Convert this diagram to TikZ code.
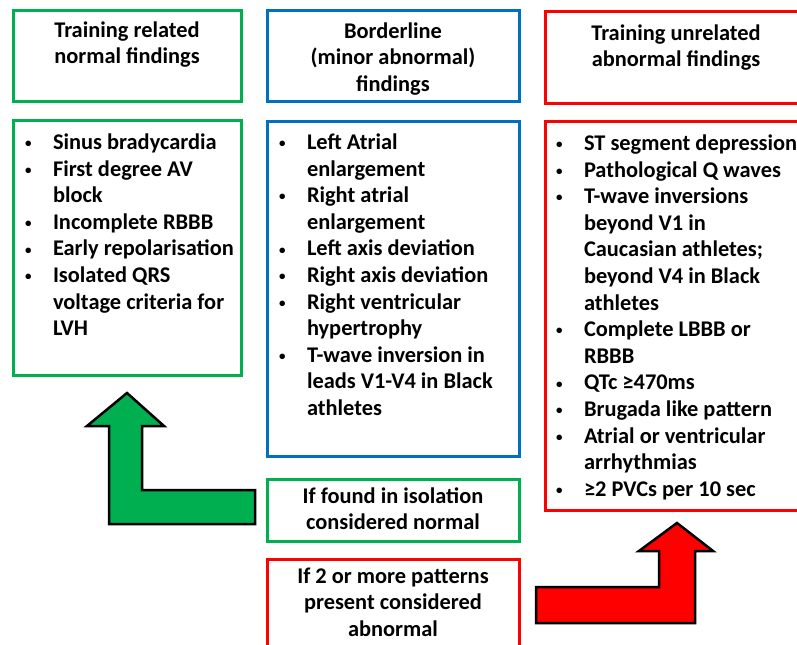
\documentclass[tikz,border=0pt]{standalone}
\usepackage{fontspec}
\setmainfont{Carlito}
\definecolor{okgreen}{HTML}{00B050}
\definecolor{okblue}{HTML}{0070C0}
\definecolor{okred}{HTML}{FF0000}
\newcommand\itembul{\makebox[28bp][l]{\raisebox{1.8bp}{\fontsize{13bp}{13bp}\selectfont•}}}
\newcommand\itemcont{\hspace*{28bp}}
\begin{document}
\begin{tikzpicture}[x=1bp,y=-1bp,
  box/.style={draw=#1, line width=3bp, inner sep=0pt, outer sep=0pt, anchor=north west, fill=white},
  txt/.style={inner sep=0pt, outer sep=0pt, font=\fontsize{22.4bp}{26.6bp}\selectfont\bfseries, text=black},
  listtxt/.style={txt, align=left, anchor=north west},
  headtxt/.style={txt, align=center, anchor=north},
  bigarrow/.style={draw=black, line width=2.5bp, line join=miter, fill=#1}
]
\path[use as bounding box] (0,0) rectangle (797,645);
\clip (0,0) rectangle (797,645);

% header boxes
\node[box=okgreen, minimum width=228bp, minimum height=91bp] (gh) at (13,11) {};
\node[box=okblue,  minimum width=252bp, minimum height=91bp] (bh) at (267,11) {};
\node[box=okred,   minimum width=265bp, minimum height=92bp] (rh) at (545,12) {};

% body boxes
\node[box=okgreen, minimum width=228bp, minimum height=254bp] (gb) at (13,121) {};
\node[box=okblue,  minimum width=252bp, minimum height=334bp] (bb) at (267,122) {};
\node[box=okred,   minimum width=265bp, minimum height=388bp] (rb) at (545,122) {};

% small boxes
\node[box=okgreen, minimum width=252bp, minimum height=62bp] (gs) at (267,479) {};
\node[box=okred,   minimum width=252bp, minimum height=121bp] (rs) at (267,559) {};

% header texts
\node[headtxt] (ght) at (127,18.4) {\strut Training related\\normal findings};
\node[headtxt] (bht) at (393,19.4) {\strut Borderline\\(minor abnormal)\\findings};
\node[headtxt] (rht) at (676,21.4) {\strut Training unrelated\\abnormal findings};

% list texts
\node[listtxt] (gbt) at (25,130.9) {\strut\itembul Sinus bradycardia\\
\itembul First degree AV\\
\itemcont block\\
\itembul Incomplete RBBB\\
\itembul Early repolarisation\\
\itembul Isolated QRS\\
\itemcont voltage criteria for\\
\itemcont LVH};

\node[listtxt] (bbt) at (279,130.9) {\strut\itembul Left Atrial\\
\itemcont enlargement\\
\itembul Right atrial\\
\itemcont enlargement\\
\itembul Left axis deviation\\
\itembul Right axis deviation\\
\itembul Right ventricular\\
\itemcont hypertrophy\\
\itembul T-wave inversion in\\
\itemcont leads V1-V4 in Black\\
\itemcont athletes};

\node[listtxt] (rbt) at (556,131.9) {\strut\itembul ST segment depression\\
\itembul Pathological Q waves\\
\itembul T-wave inversions\\
\itemcont beyond V1 in\\
\itemcont Caucasian athletes;\\
\itemcont beyond V4 in Black\\
\itemcont athletes\\
\itembul Complete LBBB or\\
\itemcont RBBB\\
\itembul QTc ≥470ms\\
\itembul Brugada like pattern\\
\itembul Atrial or ventricular\\
\itemcont arrhythmias\\
\itembul ≥2 PVCs per 10 sec};

% small box texts
\node[headtxt] (gst) at (393,484.4) {\strut If found in isolation\\considered normal};
\node[headtxt] (rst) at (393,564.4) {\strut If 2 or more patterns\\present considered\\abnormal};

% arrows
\draw[bigarrow=okgreen] (127,393) -- (164,426) -- (142,426) -- (142,490) -- (255,490)
  -- (255,524) -- (109,524) -- (109,426) -- (87,426) -- cycle;
\draw[bigarrow=okred] (677,523) -- (713,551) -- (695,551) -- (695,623) -- (536,623)
  -- (536,587) -- (659,587) -- (659,551) -- (639,551) -- cycle;
\end{tikzpicture}
\end{document}
